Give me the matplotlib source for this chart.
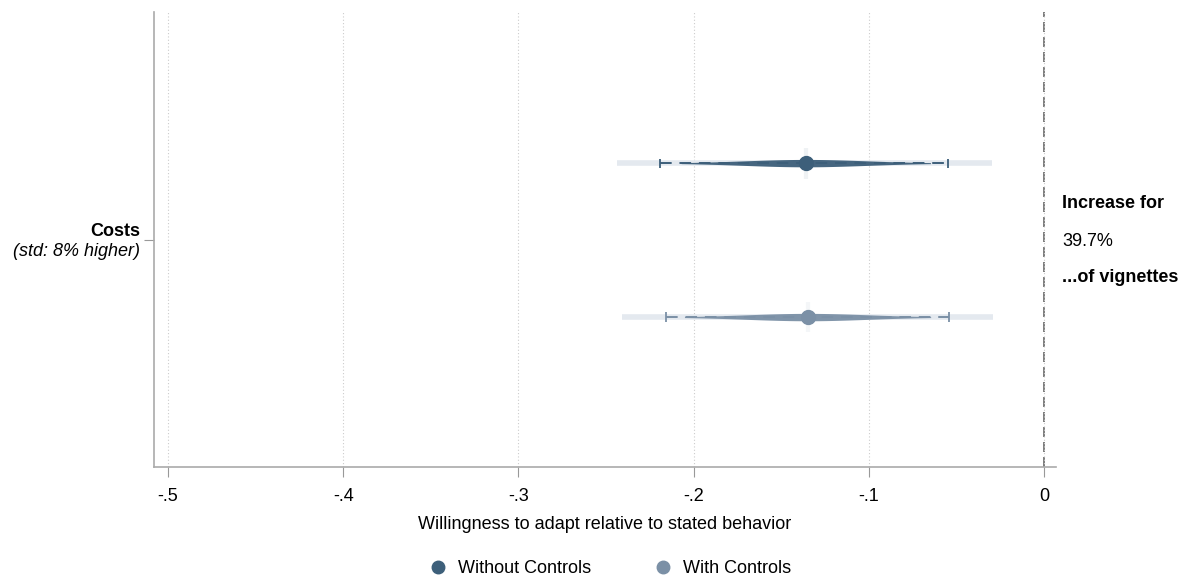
import numpy as np
import matplotlib.pyplot as plt

plt.rcParams['font.family'] = ['Liberation Sans', 'DejaVu Sans']

# estimates
series = ['Without Controls', 'With Controls']
est = [-0.136, -0.135]
lo95 = [-0.219, -0.216]
hi95 = [-0.055, -0.054]
lo99 = [-0.244, -0.241]
hi99 = [-0.030, -0.029]
colors = ['#3d5f7a', '#7b90a6']
rows = [1, 2]
xticks = [-0.5, -0.4, -0.3, -0.2, -0.1, 0]
xticklabels = ['-.5', '-.4', '-.3', '-.2', '-.1', '0']

fig = plt.figure(figsize=(11.9, 5.8), dpi=100)
ax = fig.add_axes([0.1294, 0.1948, 0.7580, 0.7842])

for i in range(2):
    y = rows[i]
    c = colors[i]
    # wide light band
    ax.plot([lo99[i], hi99[i]], [y, y], color='#e4e9ef', lw=4, solid_capstyle='butt', zorder=2)
    # dashed 95% interval with caps
    ax.plot([lo95[i], hi95[i]], [y, y], color=c, lw=1.4, ls=(0, (6, 4)), zorder=3)
    ax.vlines([lo95[i], hi95[i]], y - 0.03, y + 0.03, color=c, lw=1.3, zorder=3)
    # tapered shape around the estimate
    se = (hi95[i] - lo95[i]) / (2 * 1.96)
    xs = np.linspace(est[i] - 1.7 * se, est[i] + 1.7 * se, 400)
    h = 0.024 * np.exp(-0.5 * ((xs - est[i]) / (0.85 * se)) ** 2)
    ax.fill_between(xs, y - h, y + h, color=c, lw=0, alpha=0.95, zorder=4)
    ax.vlines(est[i], y - 0.1, y + 0.1, color=c, lw=3, alpha=0.08, zorder=4)
    ax.plot(est[i], y, 'o', color=c, ms=10, zorder=5, label=series[i])

ax.axvline(0, color='#666666', lw=1.2, ls=(0, (6, 3)), zorder=1)

ax.set_xlim(-0.508, 0.0068)
ax.set_ylim(2.974, 0.0195)
ax.set_xticks(xticks)
ax.set_xticklabels(xticklabels, fontsize=13)
ax.xaxis.grid(True, color='#cccccc', ls=(0, (1, 2)), lw=0.8)
ax.tick_params(axis='x', length=7, color='#999999', pad=8)
ax.set_yticks([1.5])
ax.set_yticklabels([''])
ax.tick_params(axis='y', length=7, color='#999999')
for s in ['top', 'right']:
    ax.spines[s].set_visible(False)
for s in ['left', 'bottom']:
    ax.spines[s].set_color('#aaaaaa')
    ax.spines[s].set_linewidth(1.2)

ax.set_xlabel('Willingness to adapt relative to stated behavior', fontsize=13, labelpad=8)

fig.text(140 / 1190, 1 - 232 / 580, 'Costs', ha='right', va='center', fontsize=13, fontweight='bold')
fig.text(140 / 1190, 1 - 251 / 580, '(std: 8% higher)', ha='right', va='center', fontsize=13, style='italic')

fig.text(1062 / 1190, 1 - 203 / 580, 'Increase for', ha='left', va='center', fontsize=13, fontweight='bold')
fig.text(1062 / 1190, 1 - 241 / 580, '39.7%', ha='left', va='center', fontsize=13)
fig.text(1062 / 1190, 1 - 278 / 580, '...of vignettes', ha='left', va='center', fontsize=13, fontweight='bold')

handles = [plt.Line2D([], [], ls='', marker='o', color=c, ms=9) for c in colors]
fig.legend(handles, series, loc='center', bbox_to_anchor=(0.509, 0.019), ncol=2, frameon=False,
           fontsize=13, handletextpad=0.1, columnspacing=3.0)

plt.savefig('out.png', dpi=100)
